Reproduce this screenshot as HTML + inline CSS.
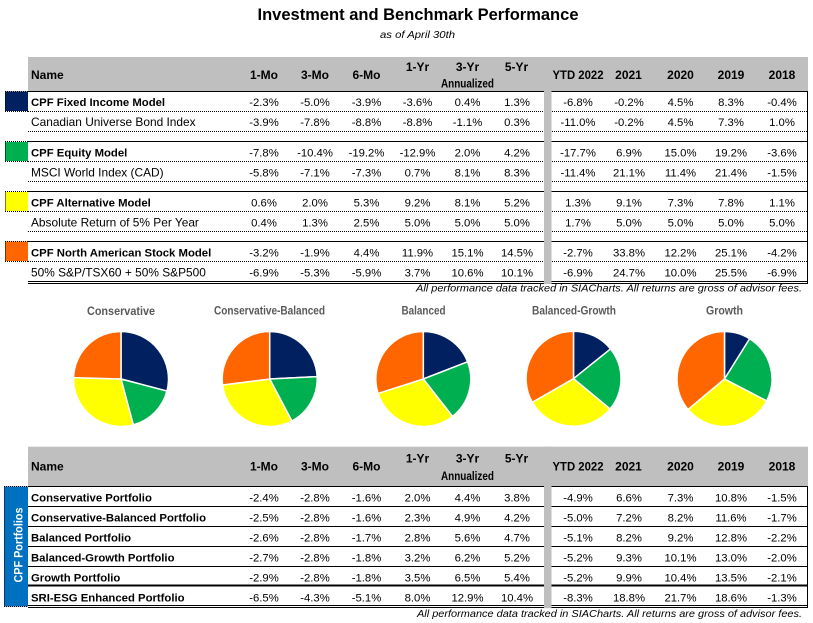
<!DOCTYPE html>
<html><head><meta charset="utf-8"><style>
html,body{margin:0;padding:0;background:#fff;}
svg{display:block;}
text{font-family:"Liberation Sans",Arial,sans-serif;fill:#000;}
.h{font-weight:bold;font-size:12px;text-anchor:middle;}
.hn{font-weight:bold;font-size:12px;}
.b{font-weight:bold;font-size:11.33px;}
.r{font-size:11.9px;}
.n{font-size:11.3px;text-anchor:middle;}
.pt{font-weight:bold;font-size:12px;fill:#595959;text-anchor:middle;}
.fn{font-style:italic;font-size:10.5px;text-anchor:end;}
.dot{stroke:#000;stroke-width:1;stroke-dasharray:1,1;fill:none;}
.sol{stroke:#000;stroke-width:1;fill:none;}
.sl{stroke:#fff;stroke-width:1.5;stroke-linejoin:round;}
</style></head><body>
<svg width="813" height="623" viewBox="0 0 813 623" xmlns="http://www.w3.org/2000/svg">
<rect width="813" height="623" fill="#fff"/>
<!-- Title -->
<text x="418" y="20" font-weight="bold" font-size="16.5" text-anchor="middle" textLength="321" lengthAdjust="spacingAndGlyphs">Investment and Benchmark Performance</text>
<text x="417.5" y="38" font-style="italic" font-size="10.5" text-anchor="middle" textLength="75" lengthAdjust="spacingAndGlyphs">as of April 30th</text>

<!-- ===== TABLE 1 ===== -->
<rect x="28" y="57" width="780" height="34" fill="#bfbfbf"/>
<!-- squares -->
<rect x="5" y="91.5" width="23" height="19.5" fill="#002060"/>
<rect x="5" y="142" width="23" height="19" fill="#00b050"/>
<rect x="5" y="192" width="23" height="19" fill="#ffff00"/>
<rect x="5" y="241.5" width="23" height="19.5" fill="#ff6600"/>
<path class="dot" d="M5,91.5H28 M5,111.5H28 M5.5,91.5V111.5 M5,141.5H28 M5,161.5H28 M5.5,141.5V161.5 M5,191.5H28 M5,211.5H28 M5.5,191.5V211.5 M5,241.5H28 M5,261.5H28 M5.5,241.5V261.5"/>
<!-- row lines -->
<path class="sol" d="M28,91.5H807 M28,141.5H807 M28,191.5H807 M28,241.5H807 M28,281.5H807 M28,283.5H807 M807.5,91V284"/>
<path class="dot" d="M28,111.5H807 M28,131.5H807 M28,161.5H807 M28,181.5H807 M28,211.5H807 M28,231.5H807 M28,261.5H807"/>
<rect x="544" y="57" width="7.5" height="227" fill="#bfbfbf"/>
<!-- headers -->
<text class="hn" x="31" y="79">Name</text>
<text class="h" y="79"><tspan x="264">1-Mo</tspan><tspan x="315">3-Mo</tspan><tspan x="366.5">6-Mo</tspan><tspan x="628.5">2021</tspan><tspan x="680.5">2020</tspan><tspan x="731">2019</tspan><tspan x="782">2018</tspan></text>
<text class="h" x="578" y="79" textLength="51" lengthAdjust="spacingAndGlyphs">YTD 2022</text>
<text class="h" y="71"><tspan x="417.5">1-Yr</tspan><tspan x="467.5">3-Yr</tspan><tspan x="516.5">5-Yr</tspan></text>
<text class="h" x="467.5" y="87.7" textLength="53" lengthAdjust="spacingAndGlyphs">Annualized</text>
<!-- names -->
<text class="b" x="31" y="106">CPF Fixed Income Model</text>
<text class="r" x="31" y="126">Canadian Universe Bond Index</text>
<text class="b" x="31" y="156.5">CPF Equity Model</text>
<text class="r" x="31" y="176.5">MSCI World Index (CAD)</text>
<text class="b" x="31" y="206.5">CPF Alternative Model</text>
<text class="r" x="31" y="226.5">Absolute Return of 5% Per Year</text>
<text class="b" x="31" y="256.5">CPF North American Stock Model</text>
<text class="r" x="31" y="276.5">50% S&amp;P/TSX60 + 50% S&amp;P500</text>
<!-- numbers -->
<text class="n" y="106"><tspan x="264">-2.3%</tspan><tspan x="315">-5.0%</tspan><tspan x="366.5">-3.9%</tspan><tspan x="417.5">-3.6%</tspan><tspan x="467.5">0.4%</tspan><tspan x="517">1.3%</tspan><tspan x="578">-6.8%</tspan><tspan x="629">-0.2%</tspan><tspan x="680.5">4.5%</tspan><tspan x="731">8.3%</tspan><tspan x="782">-0.4%</tspan></text>
<text class="n" y="126"><tspan x="264">-3.9%</tspan><tspan x="315">-7.8%</tspan><tspan x="366.5">-8.8%</tspan><tspan x="417.5">-8.8%</tspan><tspan x="467.5">-1.1%</tspan><tspan x="517">0.3%</tspan><tspan x="578">-11.0%</tspan><tspan x="629">-0.2%</tspan><tspan x="680.5">4.5%</tspan><tspan x="731">7.3%</tspan><tspan x="782">1.0%</tspan></text>
<text class="n" y="156.5"><tspan x="264">-7.8%</tspan><tspan x="315">-10.4%</tspan><tspan x="366.5">-19.2%</tspan><tspan x="417.5">-12.9%</tspan><tspan x="467.5">2.0%</tspan><tspan x="517">4.2%</tspan><tspan x="578">-17.7%</tspan><tspan x="629">6.9%</tspan><tspan x="680.5">15.0%</tspan><tspan x="731">19.2%</tspan><tspan x="782">-3.6%</tspan></text>
<text class="n" y="176.5"><tspan x="264">-5.8%</tspan><tspan x="315">-7.1%</tspan><tspan x="366.5">-7.3%</tspan><tspan x="417.5">0.7%</tspan><tspan x="467.5">8.1%</tspan><tspan x="517">8.3%</tspan><tspan x="578">-11.4%</tspan><tspan x="629">21.1%</tspan><tspan x="680.5">11.4%</tspan><tspan x="731">21.4%</tspan><tspan x="782">-1.5%</tspan></text>
<text class="n" y="206.5"><tspan x="264">0.6%</tspan><tspan x="315">2.0%</tspan><tspan x="366.5">5.3%</tspan><tspan x="417.5">9.2%</tspan><tspan x="467.5">8.1%</tspan><tspan x="517">5.2%</tspan><tspan x="578">1.3%</tspan><tspan x="629">9.1%</tspan><tspan x="680.5">7.3%</tspan><tspan x="731">7.8%</tspan><tspan x="782">1.1%</tspan></text>
<text class="n" y="226.5"><tspan x="264">0.4%</tspan><tspan x="315">1.3%</tspan><tspan x="366.5">2.5%</tspan><tspan x="417.5">5.0%</tspan><tspan x="467.5">5.0%</tspan><tspan x="517">5.0%</tspan><tspan x="578">1.7%</tspan><tspan x="629">5.0%</tspan><tspan x="680.5">5.0%</tspan><tspan x="731">5.0%</tspan><tspan x="782">5.0%</tspan></text>
<text class="n" y="256.5"><tspan x="264">-3.2%</tspan><tspan x="315">-1.9%</tspan><tspan x="366.5">4.4%</tspan><tspan x="417.5">11.9%</tspan><tspan x="467.5">15.1%</tspan><tspan x="517">14.5%</tspan><tspan x="578">-2.7%</tspan><tspan x="629">33.8%</tspan><tspan x="680.5">12.2%</tspan><tspan x="731">25.1%</tspan><tspan x="782">-4.2%</tspan></text>
<text class="n" y="276.5"><tspan x="264">-6.9%</tspan><tspan x="315">-5.3%</tspan><tspan x="366.5">-5.9%</tspan><tspan x="417.5">3.7%</tspan><tspan x="467.5">10.6%</tspan><tspan x="517">10.1%</tspan><tspan x="578">-6.9%</tspan><tspan x="629">24.7%</tspan><tspan x="680.5">10.0%</tspan><tspan x="731">25.5%</tspan><tspan x="782">-6.9%</tspan></text>
<text class="fn" x="802" y="291.5" textLength="386" lengthAdjust="spacingAndGlyphs">All performance data tracked in SIACharts. All returns are gross of advisor fees.</text>

<!-- ===== PIES ===== -->
<text class="pt" x="121" y="315" textLength="68" lengthAdjust="spacingAndGlyphs">Conservative</text>
<text class="pt" x="269.5" y="314.5" textLength="111" lengthAdjust="spacingAndGlyphs">Conservative-Balanced</text>
<text class="pt" x="423.5" y="314.5" textLength="44" lengthAdjust="spacingAndGlyphs">Balanced</text>
<text class="pt" x="574" y="314.5" textLength="84" lengthAdjust="spacingAndGlyphs">Balanced-Growth</text>
<text class="pt" x="724.5" y="314.5" textLength="37" lengthAdjust="spacingAndGlyphs">Growth</text>

<!-- P1 -->
<path class="sl" fill="#002060" d="M121,379 L121,331.5 A47.5,47.5 0 0 1 166.95,391.05 Z"/>
<path class="sl" fill="#00b050" d="M121,379 L166.95,391.05 A47.5,47.5 0 0 1 133.29,424.88 Z"/>
<path class="sl" fill="#ffff00" d="M121,379 L133.29,424.88 A47.5,47.5 0 0 1 73.52,377.67 Z"/>
<path class="sl" fill="#ff6600" d="M121,379 L73.52,377.67 A47.5,47.5 0 0 1 121,331.5 Z"/>
<!-- P2 -->
<path class="sl" fill="#002060" d="M269.7,379 L269.7,331.5 A47.5,47.5 0 0 1 317.14,376.68 Z"/>
<path class="sl" fill="#00b050" d="M269.7,379 L317.14,376.68 A47.5,47.5 0 0 1 291.85,421.02 Z"/>
<path class="sl" fill="#ffff00" d="M269.7,379 L291.85,421.02 A47.5,47.5 0 0 1 222.57,384.95 Z"/>
<path class="sl" fill="#ff6600" d="M269.7,379 L222.57,384.95 A47.5,47.5 0 0 1 269.7,331.5 Z"/>
<!-- P3 -->
<path class="sl" fill="#002060" d="M423.3,379 L423.3,331.5 A47.5,47.5 0 0 1 467.58,361.82 Z"/>
<path class="sl" fill="#00b050" d="M423.3,379 L467.58,361.82 A47.5,47.5 0 0 1 452.54,416.43 Z"/>
<path class="sl" fill="#ffff00" d="M423.3,379 L452.54,416.43 A47.5,47.5 0 0 1 378.05,393.44 Z"/>
<path class="sl" fill="#ff6600" d="M423.3,379 L378.05,393.44 A47.5,47.5 0 0 1 423.3,331.5 Z"/>
<!-- P4 -->
<path class="sl" fill="#002060" d="M573.5,378.7 L573.5,331.2 A47.5,47.5 0 0 1 610.52,348.94 Z"/>
<path class="sl" fill="#00b050" d="M573.5,378.7 L610.52,348.94 A47.5,47.5 0 0 1 610.1,408.98 Z"/>
<path class="sl" fill="#ffff00" d="M573.5,378.7 L610.1,408.98 A47.5,47.5 0 0 1 532.28,402.31 Z"/>
<path class="sl" fill="#ff6600" d="M573.5,378.7 L532.28,402.31 A47.5,47.5 0 0 1 573.5,331.2 Z"/>
<!-- P5 -->
<path class="sl" fill="#002060" d="M724.5,379 L724.5,331.5 A47.5,47.5 0 0 1 749.67,338.72 Z"/>
<path class="sl" fill="#00b050" d="M724.5,379 L749.67,338.72 A47.5,47.5 0 0 1 766.63,400.93 Z"/>
<path class="sl" fill="#ffff00" d="M724.5,379 L766.63,400.93 A47.5,47.5 0 0 1 688.01,409.4 Z"/>
<path class="sl" fill="#ff6600" d="M724.5,379 L688.01,409.4 A47.5,47.5 0 0 1 724.5,331.5 Z"/>

<!-- ===== TABLE 2 ===== -->
<rect x="28" y="446.7" width="780" height="40" fill="#bfbfbf"/>
<rect x="4" y="486.5" width="24" height="120" fill="#0070c0"/>
<path class="dot" d="M4,486.5H28 M4.5,486.5V606.5 M4,606.5H28"/>
<path class="sol" d="M28,486.5H807 M28,506.5H807 M28,526.5H807 M28,546.5H807 M28,566.5H807 M28,605.5H807 M28,607.5H807 M807.5,486V608"/>
<path d="M28,585.5H807" stroke="#000" stroke-width="2"/>
<rect x="544" y="446.7" width="7.5" height="161.5" fill="#bfbfbf"/>
<text x="22.5" y="545" transform="rotate(-90 22.5 545)" font-weight="bold" font-size="11.5" text-anchor="middle" fill="#fff" style="fill:#fff" textLength="75" lengthAdjust="spacingAndGlyphs">CPF Portfolios</text>
<text class="hn" x="31" y="470.7">Name</text>
<text class="h" y="470.7"><tspan x="264">1-Mo</tspan><tspan x="315">3-Mo</tspan><tspan x="366.5">6-Mo</tspan><tspan x="628.5">2021</tspan><tspan x="680.5">2020</tspan><tspan x="731">2019</tspan><tspan x="782">2018</tspan></text>
<text class="h" x="578" y="470.7" textLength="51" lengthAdjust="spacingAndGlyphs">YTD 2022</text>
<text class="h" y="462.5"><tspan x="417.5">1-Yr</tspan><tspan x="467.5">3-Yr</tspan><tspan x="516.5">5-Yr</tspan></text>
<text class="h" x="467.5" y="480" textLength="53" lengthAdjust="spacingAndGlyphs">Annualized</text>
<text class="b" x="31" y="501.7">Conservative Portfolio</text>
<text class="b" x="31" y="521.7">Conservative-Balanced Portfolio</text>
<text class="b" x="31" y="541.7">Balanced Portfolio</text>
<text class="b" x="31" y="561.7">Balanced-Growth Portfolio</text>
<text class="b" x="31" y="581.7">Growth Portfolio</text>
<text class="b" x="31" y="601.7">SRI-ESG Enhanced Portfolio</text>
<text class="n" y="501.7"><tspan x="264">-2.4%</tspan><tspan x="315">-2.8%</tspan><tspan x="366.5">-1.6%</tspan><tspan x="417.5">2.0%</tspan><tspan x="467.5">4.4%</tspan><tspan x="517">3.8%</tspan><tspan x="578">-4.9%</tspan><tspan x="629">6.6%</tspan><tspan x="680.5">7.3%</tspan><tspan x="731">10.8%</tspan><tspan x="782">-1.5%</tspan></text>
<text class="n" y="521.7"><tspan x="264">-2.5%</tspan><tspan x="315">-2.8%</tspan><tspan x="366.5">-1.6%</tspan><tspan x="417.5">2.3%</tspan><tspan x="467.5">4.9%</tspan><tspan x="517">4.2%</tspan><tspan x="578">-5.0%</tspan><tspan x="629">7.2%</tspan><tspan x="680.5">8.2%</tspan><tspan x="731">11.6%</tspan><tspan x="782">-1.7%</tspan></text>
<text class="n" y="541.7"><tspan x="264">-2.6%</tspan><tspan x="315">-2.8%</tspan><tspan x="366.5">-1.7%</tspan><tspan x="417.5">2.8%</tspan><tspan x="467.5">5.6%</tspan><tspan x="517">4.7%</tspan><tspan x="578">-5.1%</tspan><tspan x="629">8.2%</tspan><tspan x="680.5">9.2%</tspan><tspan x="731">12.8%</tspan><tspan x="782">-2.2%</tspan></text>
<text class="n" y="561.7"><tspan x="264">-2.7%</tspan><tspan x="315">-2.8%</tspan><tspan x="366.5">-1.8%</tspan><tspan x="417.5">3.2%</tspan><tspan x="467.5">6.2%</tspan><tspan x="517">5.2%</tspan><tspan x="578">-5.2%</tspan><tspan x="629">9.3%</tspan><tspan x="680.5">10.1%</tspan><tspan x="731">13.0%</tspan><tspan x="782">-2.0%</tspan></text>
<text class="n" y="581.7"><tspan x="264">-2.9%</tspan><tspan x="315">-2.8%</tspan><tspan x="366.5">-1.8%</tspan><tspan x="417.5">3.5%</tspan><tspan x="467.5">6.5%</tspan><tspan x="517">5.4%</tspan><tspan x="578">-5.2%</tspan><tspan x="629">9.9%</tspan><tspan x="680.5">10.4%</tspan><tspan x="731">13.5%</tspan><tspan x="782">-2.1%</tspan></text>
<text class="n" y="601.7"><tspan x="264">-6.5%</tspan><tspan x="315">-4.3%</tspan><tspan x="366.5">-5.1%</tspan><tspan x="417.5">8.0%</tspan><tspan x="467.5">12.9%</tspan><tspan x="517">10.4%</tspan><tspan x="578">-8.3%</tspan><tspan x="629">18.8%</tspan><tspan x="680.5">21.7%</tspan><tspan x="731">18.6%</tspan><tspan x="782">-1.3%</tspan></text>
<text class="fn" x="802" y="617" textLength="385" lengthAdjust="spacingAndGlyphs">All performance data tracked in SIACharts. All returns are gross of advisor fees.</text>
</svg>
</body></html>
